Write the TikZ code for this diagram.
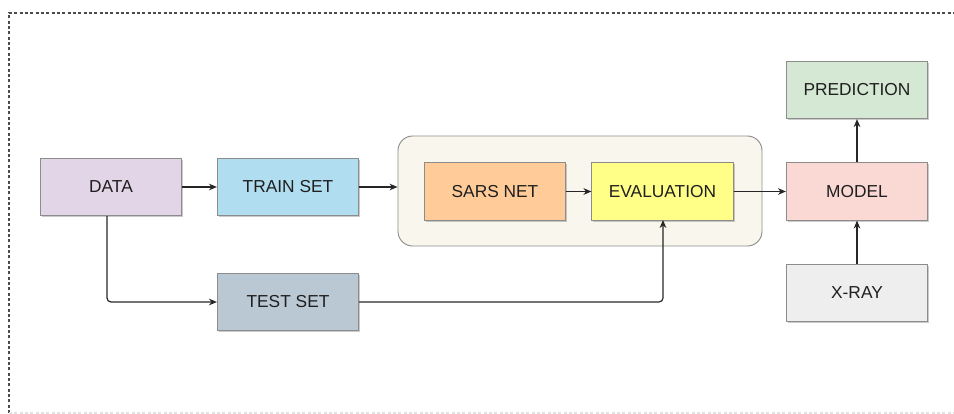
\documentclass[tikz,border=0pt]{standalone}
\usepackage{fontspec}
\setmainfont{Liberation Sans}
\usetikzlibrary{arrows.meta,shadows}
\definecolor{cData}{HTML}{E1D5E7}
\definecolor{cTrain}{HTML}{B1DDF0}
\definecolor{cTest}{HTML}{BAC8D3}
\definecolor{cSars}{HTML}{FFCC99}
\definecolor{cEval}{HTML}{FFFF88}
\definecolor{cModel}{HTML}{FAD9D5}
\definecolor{cPred}{HTML}{D5E8D4}
\definecolor{cXray}{HTML}{EEEEEE}
\definecolor{cGroup}{HTML}{F9F7ED}
\definecolor{cEdge}{HTML}{8C8C8C}
\tikzset{
  box/.style={draw=cEdge, line width=0.6pt, minimum width=106pt, minimum height=43pt,
    inner sep=0pt, font=\fontsize{13}{15}\selectfont, text=black!88,
    drop shadow={shadow xshift=1.2pt, shadow yshift=-1.2pt, opacity=0.35, fill=black!60}},
  link/.style={draw=black!85, line width=0.9pt, -{Stealth[length=6pt,width=5pt]}, rounded corners=3pt},
}
\begin{document}
\begin{tikzpicture}[x=0.75pt,y=-0.75pt]
\useasboundingbox (0,0) rectangle (954,414);
% outer frame
\draw[black!70, line width=1pt, dash pattern=on 2.2pt off 1.8pt] (9,413) -- (9,13) -- (954,13);
\draw[black!12, line width=1pt, dash pattern=on 2.2pt off 1.8pt] (9,413) -- (954,413);
% grouping panel
\node[draw=cEdge, fill=cGroup, line width=0.7pt, rounded corners=11pt, minimum width=273pt, minimum height=82.5pt, inner sep=0pt] (grp) at (580,191) {};
% boxes
\node[box, fill=cData]  (data)  at (111,187) {DATA};
\node[box, fill=cTrain] (train) at (288,187) {TRAIN SET};
\node[box, fill=cTest]  (test)  at (288,302) {TEST SET};
\node[box, fill=cSars]  (sars)  at (495,191.5) {SARS NET};
\node[box, fill=cEval]  (eval)  at (662.5,191.5) {EVALUATION};
\node[box, fill=cModel] (model) at (857,191.5) {MODEL};
\node[box, fill=cPred]  (pred)  at (857,90) {PREDICTION};
\node[box, fill=cXray]  (xray)  at (857,293) {X-RAY};
% bend points of the elbow connectors
\coordinate (dtop) at (107,216);
\coordinate (dbend) at (107,302);
\coordinate (tbend) at (663,302);
\coordinate (etop) at (663,220);
% connectors
\draw[link] (data) -- (train);
\draw[link] (train.east) -- (train.east -| grp.west);
\draw[link] (sars) -- (eval);
\draw[link] (eval.east) -- (model.west);
\draw[link] (dtop) -- (dbend) -- (test.west);
\draw[link] (test.east) -- (tbend) -- (etop);
\draw[link] (model) -- (pred);
\draw[link] (xray) -- (model);
\end{tikzpicture}
\end{document}
